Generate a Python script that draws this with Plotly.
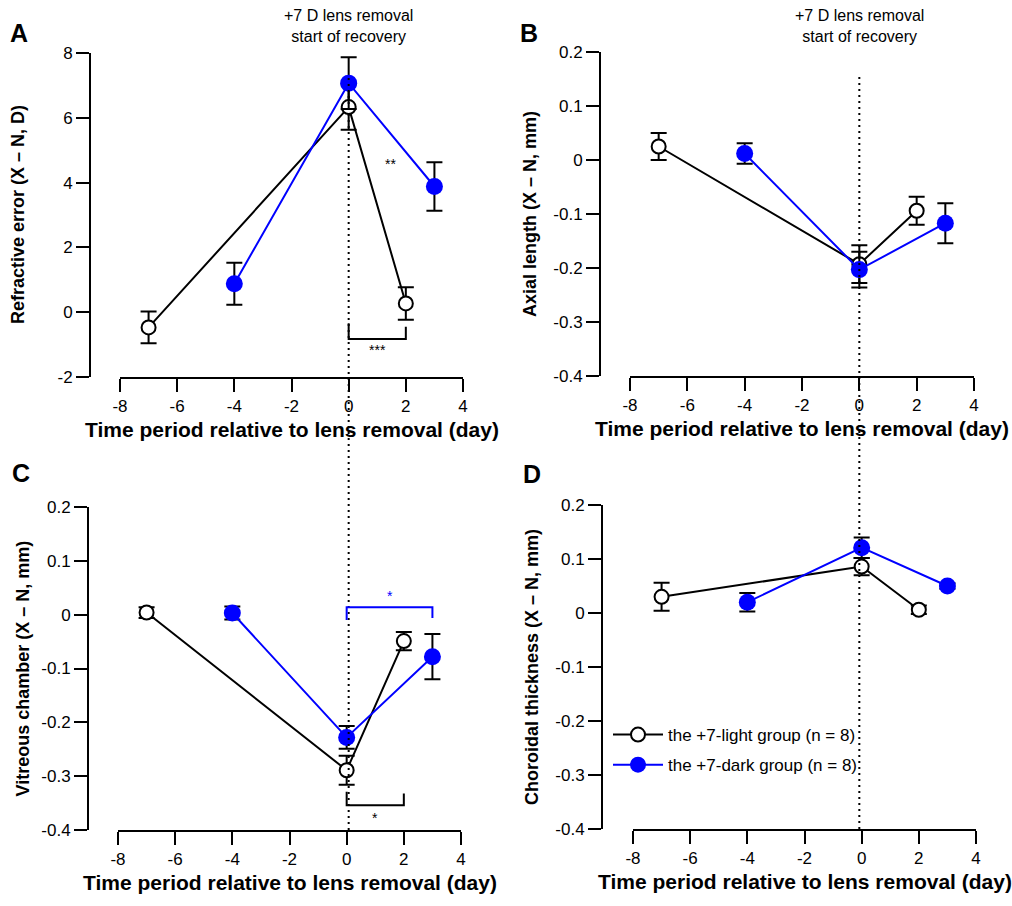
import plotly.graph_objects as go

W, H = 1012, 906

# ---------------- data ----------------
light_x = [-7, 0, 2]
dark_x = [-4, 0, 3]

# Panel A: refractive error (X - N, D)
refr_light = [-0.47, 6.33, 0.27]
refr_light_err = [0.49, 0.70, 0.50]
refr_dark = [0.88, 7.07, 3.88]
refr_dark_err = [0.65, 0.80, 0.75]

# Panel B: axial length (X - N, mm)
axial_light = [0.025, -0.193, -0.094]
axial_light_err = [0.025, 0.035, 0.026]
axial_dark = [0.012, -0.203, -0.117]
axial_dark_err = [0.019, 0.033, 0.037]

# Panel C: vitreous chamber (X - N, mm)
vit_light = [0.004, -0.289, -0.049]
vit_light_err = [0.010, 0.027, 0.017]
vit_dark = [0.003, -0.228, -0.078]
vit_dark_err = [0.012, 0.021, 0.042]

# Panel D: choroidal thickness (X - N, mm)
chor_light = [0.030, 0.086, 0.006]
chor_light_err = [0.026, 0.016, 0.008]
chor_dark = [0.020, 0.121, 0.050]
chor_dark_err = [0.017, 0.019, 0.005]

x_ticks = [-8, -6, -4, -2, 0, 2, 4]
x_ticktext = ["-8", "-6", "-4", "-2", "0", "2", "4"]
refr_ticks = [-2, 0, 2, 4, 6, 8]
refr_ticktext = ["-2", "0", "2", "4", "6", "8"]
mm_ticks = [-0.4, -0.3, -0.2, -0.1, 0, 0.1, 0.2]
mm_ticktext = ["-0.4", "-0.3", "-0.2", "-0.1", "0", "0.1", "0.2"]

light_name = "the +7-light group (n = 8)"
dark_name = "the +7-dark group (n = 8)"
x_title = "Time period relative to lens removal (day)"
y_titles = ["Refractive error (X \u2013 N, D)", "Axial length (X \u2013 N, mm)",
            "Vitreous chamber (X \u2013 N, mm)", "Choroidal thickness (X \u2013 N, mm)"]
panel_letters = ["A", "B", "C", "D"]

BLUE = "#0000ff"
FONT = "Liberation Sans, Arial, Helvetica, sans-serif"

def px(x):
    return x / W

def py(y):
    return 1 - y / H

# panel geometry (pixels): x domain, y domain (top,bottom), y-axis position
panels = [
    dict(xd=(120, 463), yd=(53, 377), ypos=90, yr=(-2, 8), yt=refr_ticks, ytt=refr_ticktext,
         data=(refr_light, refr_light_err, refr_dark, refr_dark_err), ytx=18, letter=(19, 33)),
    dict(xd=(630, 974), yd=(52, 376), ypos=600, yr=(-0.4, 0.2), yt=mm_ticks, ytt=mm_ticktext,
         data=(axial_light, axial_light_err, axial_dark, axial_dark_err), ytx=530, letter=(529, 33)),
    dict(xd=(118, 461), yd=(507, 830), ypos=88, yr=(-0.4, 0.2), yt=mm_ticks, ytt=mm_ticktext,
         data=(vit_light, vit_light_err, vit_dark, vit_dark_err), ytx=22, letter=(21, 473)),
    dict(xd=(633, 976), yd=(505, 829), ypos=602, yr=(-0.4, 0.2), yt=mm_ticks, ytt=mm_ticktext,
         data=(chor_light, chor_light_err, chor_dark, chor_dark_err), ytx=532, letter=(532, 474)),
]

fig = go.Figure()
annotations = []
shapes = []
layout_axes = {}

for i, p in enumerate(panels):
    n = "" if i == 0 else str(i + 1)
    xa, ya = "x" + n, "y" + n
    ly, lye, dy, dye = p["data"]
    show = (i == 3)
    fig.add_trace(go.Scatter(
        x=light_x, y=ly, xaxis=xa, yaxis=ya, mode="lines+markers", name=light_name,
        legendgroup="light", showlegend=show,
        line=dict(color="black", width=2),
        marker=dict(symbol="circle", size=14, color="white", line=dict(color="black", width=2)),
        error_y=dict(type="data", array=lye, color="black", thickness=2, width=8),
        cliponaxis=False))
    fig.add_trace(go.Scatter(
        x=dark_x, y=dy, xaxis=xa, yaxis=ya, mode="lines+markers", name=dark_name,
        legendgroup="dark", showlegend=show,
        line=dict(color=BLUE, width=2),
        marker=dict(symbol="circle", size=17, color=BLUE, line=dict(color=BLUE, width=0)),
        error_y=dict(type="data", array=dye, color="black", thickness=2, width=8),
        cliponaxis=False))

    layout_axes["xaxis" + n] = dict(
        domain=[px(p["xd"][0]), px(p["xd"][1])], anchor=ya, range=[-8, 4],
        tickvals=x_ticks, ticktext=x_ticktext, ticks="outside", ticklen=13, tickwidth=2,
        tickcolor="black", showline=True, linewidth=2, linecolor="black", automargin=False,
        showgrid=False, zeroline=False, tickfont=dict(size=17, color="black", family=FONT))
    layout_axes["yaxis" + n] = dict(
        domain=[py(p["yd"][1]), py(p["yd"][0])], anchor="free", position=px(p["ypos"]),
        range=list(p["yr"]), tickvals=p["yt"], ticktext=p["ytt"], ticks="outside",
        ticklen=13, tickwidth=2, tickcolor="black", showline=True, linewidth=2,
        linecolor="black", showgrid=False, zeroline=False, automargin=False,
        tickfont=dict(size=17, color="black", family=FONT))

    # axis titles
    xc = (p["xd"][0] + p["xd"][1]) / 2
    annotations.append(dict(text="<b>%s</b>" % x_title, x=px(xc), y=py(p["yd"][1] + 52),
                            xref="paper", yref="paper", showarrow=False,
                            font=dict(size=21, family=FONT, color="black"),
                            xanchor="center", yanchor="middle"))
    yc = (p["yd"][0] + p["yd"][1]) / 2
    annotations.append(dict(text="<b>%s</b>" % y_titles[i], x=px(p["ytx"]), y=py(yc),
                            xref="paper", yref="paper", showarrow=False, textangle=-90,
                            font=dict(size=18, family=FONT, color="black"),
                            xanchor="center", yanchor="middle"))
    annotations.append(dict(text="<b>%s</b>" % panel_letters[i], x=px(p["letter"][0]),
                            y=py(p["letter"][1]), xref="paper", yref="paper", showarrow=False,
                            font=dict(size=25, family=FONT, color="black"),
                            xanchor="center", yanchor="middle"))

# top annotations
for xa, xc in (("x", 0), ("x2", 0)):
    annotations.append(dict(text="+7 D lens removal<br>start of recovery", x=xc, xref=xa,
                            y=py(26), yref="paper", showarrow=False,
                            font=dict(size=16, family=FONT, color="black"),
                            xanchor="center", yanchor="middle", align="center"))

# dotted reference lines at day 0 (spanning A->C and B->D)
shapes.append(dict(type="line", xref="x", x0=0, x1=0, yref="paper", y0=py(830), y1=py(76),
                   line=dict(color="black", width=2, dash="2px,4px"), layer="above"))
shapes.append(dict(type="line", xref="x2", x0=0, x1=0, yref="paper", y0=py(829), y1=py(76),
                   line=dict(color="black", width=2, dash="2px,4px"), layer="above"))

# significance brackets
shapes.append(dict(type="path", xref="x", yref="y",
                   path="M 0,-0.34 L 0,-0.83 L 2,-0.83 L 2,-0.45",
                   line=dict(color="black", width=2)))
annotations.append(dict(text="***", x=1.0, y=-1.17, xref="x", yref="y", showarrow=False,
                        font=dict(size=14, family=FONT, color="black")))
annotations.append(dict(text="**", x=1.45, y=4.57, xref="x", yref="y", showarrow=False,
                        font=dict(size=14, family=FONT, color="black")))

shapes.append(dict(type="path", xref="x3", yref="y3",
                   path="M 0,-0.010 L 0,0.014 L 3,0.014 L 3,-0.006",
                   line=dict(color=BLUE, width=2)))
annotations.append(dict(text="*", x=1.5, y=0.034, xref="x3", yref="y3", showarrow=False,
                        font=dict(size=14, family=FONT, color=BLUE)))
shapes.append(dict(type="path", xref="x3", yref="y3",
                   path="M 0,-0.329 L 0,-0.354 L 2,-0.354 L 2,-0.332",
                   line=dict(color="black", width=2)))
annotations.append(dict(text="*", x=1.0, y=-0.378, xref="x3", yref="y3", showarrow=False,
                        font=dict(size=14, family=FONT, color="black")))

fig.update_layout(
    width=W, height=H, margin=dict(l=0, r=0, t=0, b=0, autoexpand=False),
    paper_bgcolor="white", plot_bgcolor="white",
    font=dict(family=FONT, color="black"),
    showlegend=True,
    legend=dict(x=px(608), y=py(717), xanchor="left", yanchor="top",
                bgcolor="rgba(0,0,0,0)", font=dict(size=17, family=FONT, color="black"),
                traceorder="grouped", tracegroupgap=5, itemsizing="trace", itemwidth=50),
    annotations=annotations, shapes=shapes,
    **layout_axes)

fig.write_html("out.html", config={"displayModeBar": False},
               post_script="document.body.style.margin='0';document.body.style.overflow='hidden';")
